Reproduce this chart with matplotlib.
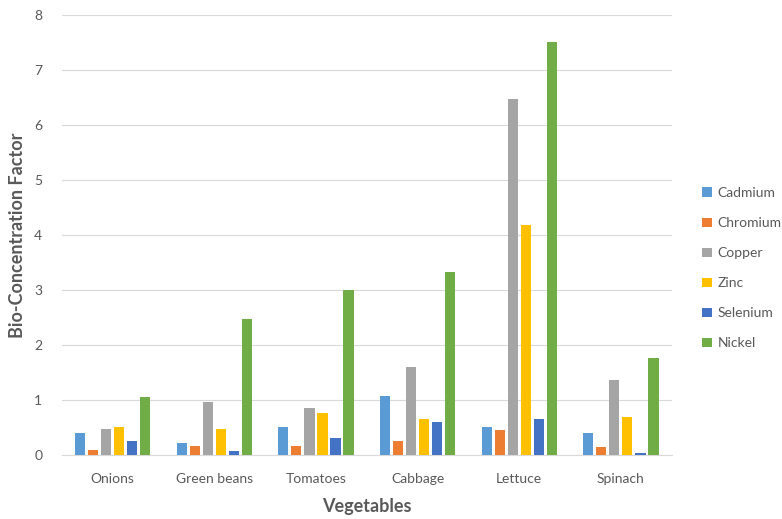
import numpy as np
import matplotlib.pyplot as plt

plt.rcParams['font.family'] = ['Lato', 'DejaVu Sans']

vegetables = ['Onions', 'Green beans', 'Tomatoes', 'Cabbage', 'Lettuce', 'Spinach']
metals = ['Cadmium', 'Chromium', 'Copper', 'Zinc', 'Selenium', 'Nickel']
colors = ['#5B9BD5', '#ED7D31', '#A5A5A5', '#FFC000', '#4472C4', '#70AD47']

cadmium = [0.40, 0.23, 0.52, 1.07, 0.52, 0.40]
chromium = [0.09, 0.17, 0.16, 0.25, 0.45, 0.15]
copper = [0.47, 0.96, 0.85, 1.60, 6.47, 1.36]
zinc = [0.52, 0.47, 0.76, 0.66, 4.18, 0.70]
selenium = [0.25, 0.07, 0.31, 0.60, 0.66, 0.04]
nickel = [1.05, 2.47, 3.01, 3.33, 7.51, 1.77]
series = [cadmium, chromium, copper, zinc, selenium, nickel]

fig = plt.figure(figsize=(7.82, 5.19), dpi=100)
ax = fig.add_axes([0.079, 0.123, 0.78, 0.848])

x = np.arange(len(vegetables))
slot = 0.128
width = 0.1
for i, (name, vals) in enumerate(zip(metals, series)):
    ax.bar(x + (i - 2.5) * slot, vals, width, color=colors[i], label=name, zorder=3)

ax.set_xlim(-0.5, len(vegetables) - 0.5)
ax.set_ylim(0, 8)
ax.set_yticks(range(0, 9))
ax.set_xticks(x)
ax.set_xticklabels(vegetables)
ax.grid(axis='y', color='#D9D9D9', linewidth=0.8, zorder=0)
for s in ['top', 'right', 'left']:
    ax.spines[s].set_visible(False)
ax.spines['bottom'].set_color('#D9D9D9')
ax.tick_params(axis='both', length=0, colors='#595959', labelsize=10)
ax.tick_params(axis='y', pad=14)
ax.tick_params(axis='x', pad=13)

ax.set_xlabel('Vegetables', fontsize=13, fontweight='bold', color='#595959', labelpad=9)
ax.set_ylabel('Bio-Concentration Factor', fontsize=13, fontweight='bold', color='#595959', labelpad=6)

fig.legend(loc='center left', bbox_to_anchor=(0.882, 0.483), frameon=False,
           fontsize=10, labelcolor='#595959', handlelength=0.7, handleheight=0.7,
           handletextpad=0.4, labelspacing=1.3)

fig.savefig('out.png', dpi=100)
